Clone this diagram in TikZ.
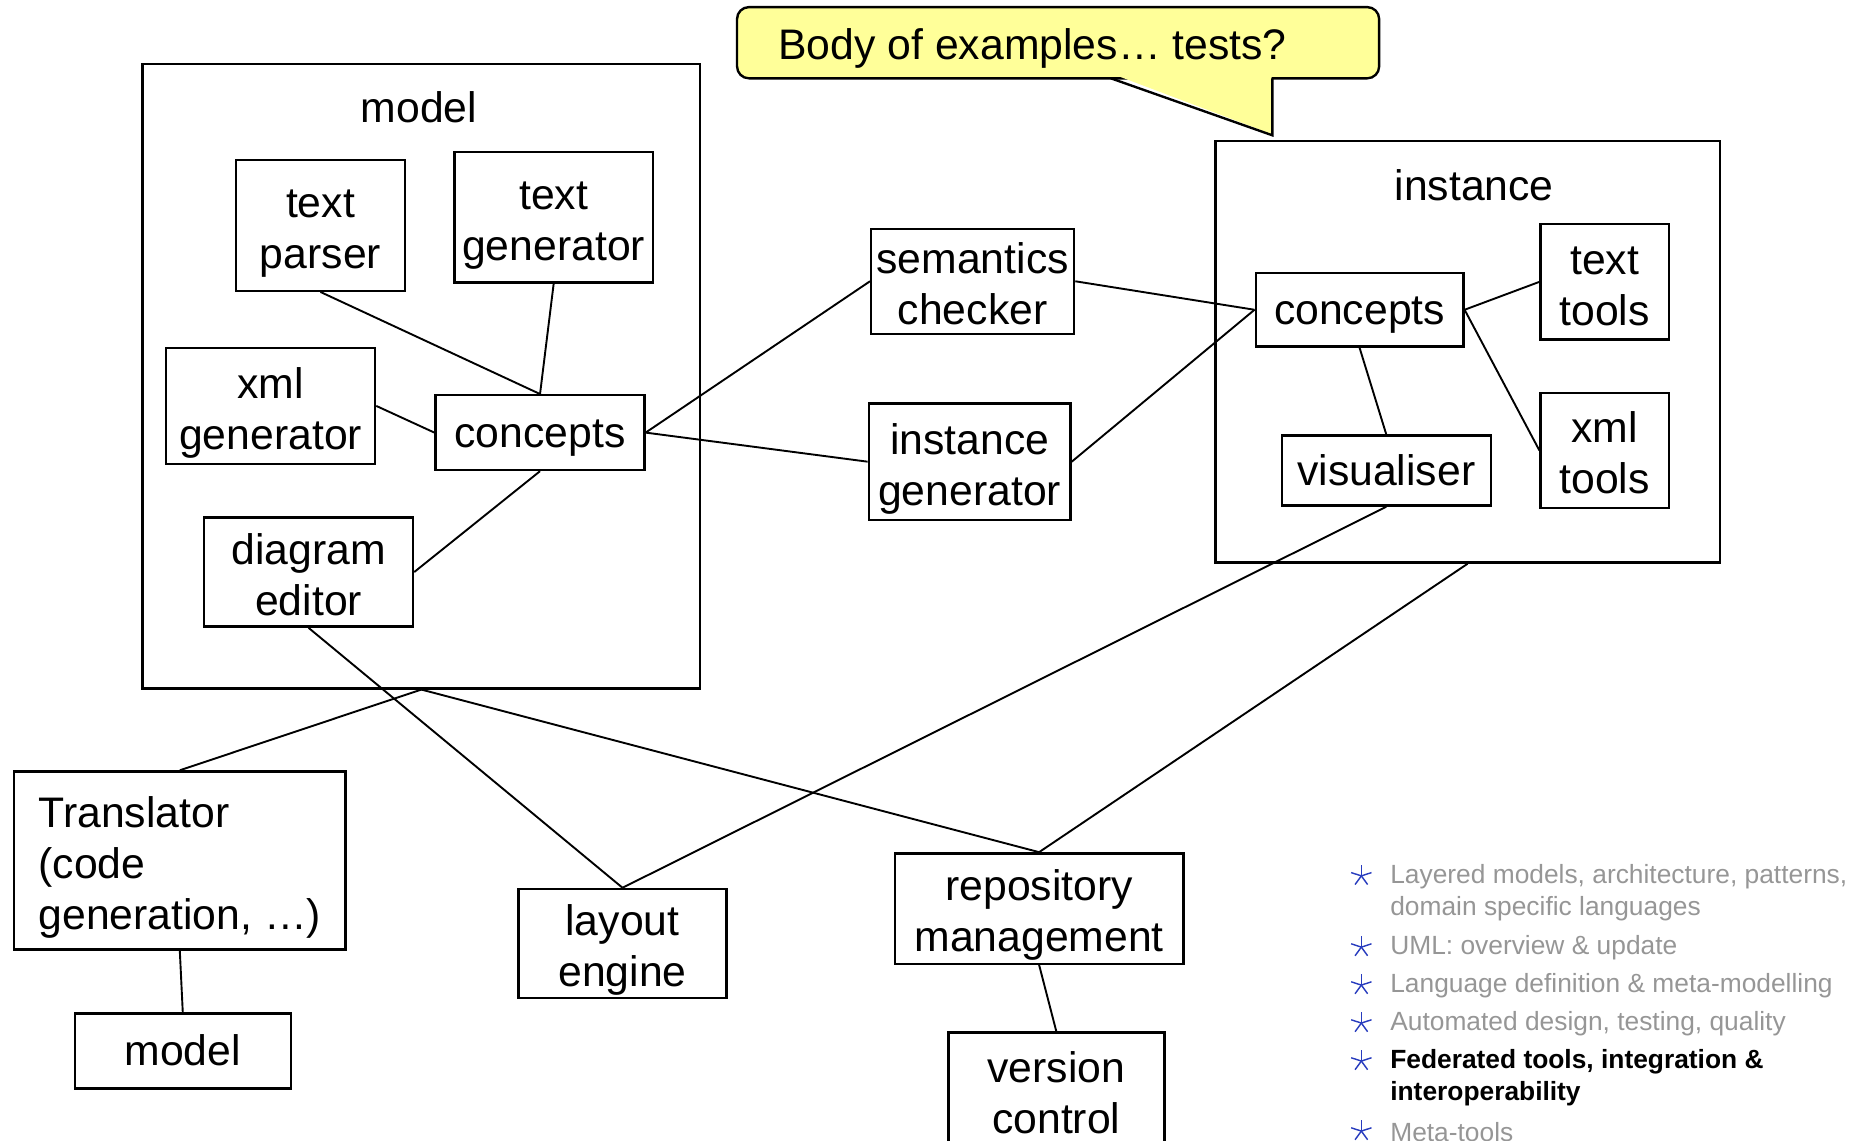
\documentclass[tikz,border=0pt]{standalone}
\usepackage{fontspec}
\setmainfont{Liberation Sans}
\definecolor{calloutfill}{RGB}{255,255,153}
\definecolor{bulletgray}{RGB}{150,150,150}
\definecolor{starblue}{RGB}{40,60,190}
% strut raising the first line of a multi-line label
\newcommand{\ts}{\rule{0pt}{1.05em}}
\begin{document}
\begin{tikzpicture}[x=0.5pt,y=-0.5pt,
  every node/.style={font=\fontsize{18}{21.5}\selectfont, inner sep=0pt},
  % ascent/descent struts so that text sits in its box like slide text
  struts/.style={execute at begin node={\rule{0pt}{0.905em}},
                 execute at end node={\rule[-0.212em]{0pt}{0pt}}},
  box/.style={draw, line width=1pt, align=center, struts},
  container/.style={draw, line width=1pt},
  link/.style={line width=0.8pt},
  item/.style={anchor=west, align=left, text=bulletgray,
    font=\fontsize{11.1}{13.5}\selectfont},
  starline/.style={starblue, line width=0.6pt}]
\useasboundingbox (0,0) rectangle (1568,961);
\clip (0,0) rectangle (1568,961);

% containers
\node[container, minimum width=235pt, minimum height=263pt] (model) at (355,317) {};
\node (modellabel) at (353,90) {model};
\node[container, minimum width=212.5pt, minimum height=177.5pt] (inst) at (1236.5,296.5) {};
\node (instlabel) at (1242,156) {instance};

% model parts
\node[box, minimum width=71pt, minimum height=55pt] (tparser) at (270,190) {\ts text\\parser};
\node[box, minimum width=83.5pt, minimum height=55pt] (tgen) at (466.5,183) {\ts text\\generator};
\node[box, minimum width=88pt, minimum height=49pt] (xmlgen) at (228,342) {\ts xml\\generator};
\node[box, minimum width=88pt, minimum height=31.5pt] (mconc) at (455,364.5) {concepts};
\node[box, minimum width=88pt, minimum height=46pt] (diag) at (260,482) {\ts diagram\\editor};

% between model and instance
\node[box, minimum width=85.5pt, minimum height=44pt] (sem) at (819.5,237) {\ts semantics\\checker};
\node[box, minimum width=85pt, minimum height=49pt] (igen) at (817,389) {\ts instance\\generator};

% instance parts
\node[box, minimum width=87.5pt, minimum height=31pt] (iconc) at (1145.5,261) {concepts};
\node[box, minimum width=54pt, minimum height=48.5pt] (ttools) at (1352,237.5) {\ts text\\tools};
\node[box, minimum width=54pt, minimum height=48.5pt] (xtools) at (1352,379.5) {\ts xml\\tools};
\node[box, minimum width=88pt, minimum height=29.5pt] (vis) at (1168,396.5) {visualiser};

% lower tools
\node[box, align=left, minimum width=139.5pt, minimum height=75pt] (transl) at (151.5,725) {\ts Translator\\(code\\generation, …)};
\node[box, minimum width=91pt, minimum height=31.5pt] (mout) at (154,885.5) {model};
\node[box, minimum width=87.5pt, minimum height=46pt] (layout) at (524.5,795) {\ts layout\\engine};
\node[box, minimum width=121.5pt, minimum height=46.5pt] (repo) at (875.5,765.5) {\ts repository\\management};
\node[box, minimum width=91pt, minimum height=48.5pt] (vc) at (890,918.5) {\ts version\\control};

% connectors
\draw[link] (tparser.south) -- (mconc.north);
\draw[link] (tgen.south) -- (mconc.north);
\draw[link] (xmlgen.east) -- (mconc.west);
\draw[link] (diag.east) -- (mconc.south);
\draw[link] (mconc.east) -- (sem.west);
\draw[link] (mconc.east) -- (igen.west);
\draw[link] (sem.east) -- (iconc.west);
\draw[link] (igen.east) -- (iconc.west);
\draw[link] (iconc.east) -- (ttools.west);
\draw[link] (iconc.east) -- (xtools.west);
\draw[link] (iconc.south) -- (vis.north);
\draw[link] (vis.south) -- (layout.north);
\draw[link] (diag.south) -- (layout.north);
\draw[link] (inst.south) -- (repo.north);
\draw[link] (model.south) -- (repo.north);
\draw[link] (model.south) -- (transl.north);
\draw[link] (transl.south) -- (mout.north);
\draw[link] (repo.south) -- (vc.north);

% speech bubble
\draw[fill=calloutfill, line width=1pt, rounded corners=5pt] (621,6) rectangle (1162,66);
\fill[calloutfill] (936.5,62) -- (1071.5,62) -- (1071.5,113) -- cycle;
\draw[line width=1pt, line join=miter] (936,66) -- (1072,114) -- (1072,66);
\node[struts] (bubble) at (870,38) {Body of examples… tests?};

% topic list
\foreach \y in {738,798,830,862,894,953}
  \foreach \a in {-90,-162,-234,-306,-18}
    \draw[starline] (1147,\y) -- ++(\a:9);
\node[item] (t1) at (1171,752) {Layered models, architecture, patterns,\\domain specific languages};
\node[item] (t2) at (1171,798.5) {UML: overview \& update};
\node[item] (t3) at (1171,830.5) {Language definition \& meta-modelling};
\node[item] (t4) at (1171,862.5) {Automated design, testing, quality};
\node[item, text=black, font=\fontsize{11.1}{13.5}\selectfont\bfseries] (t5) at (1171,908) {Federated tools, integration \&\\interoperability};
\node[item] (t6) at (1171,953.5) {Meta-tools};
\end{tikzpicture}
\end{document}
